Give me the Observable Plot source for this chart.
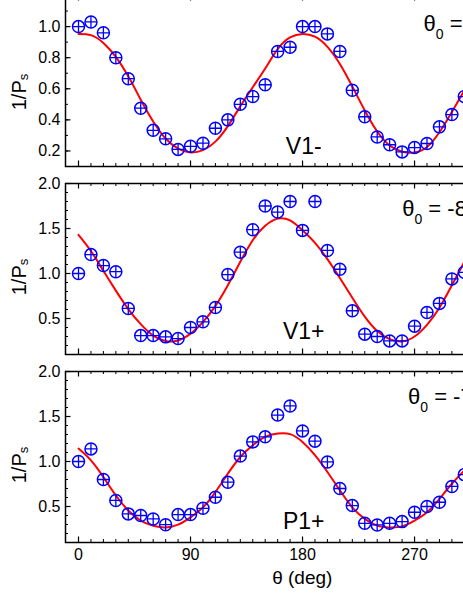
<!DOCTYPE html>
<html><head><meta charset="utf-8">
<script src="https://cdn.jsdelivr.net/npm/d3@7"></script>
<script src="https://cdn.jsdelivr.net/npm/@observablehq/plot@0.6"></script>
<style>
html,body{margin:0;padding:0;background:#fff;overflow:hidden;}
#chart{position:relative;width:463px;height:599px;overflow:hidden;background:#fff;}
#chart svg{position:absolute;left:0;overflow:visible;max-width:none !important;}
</style></head><body><div id="chart"></div>
<script>
// ---- data ----
const theta = [0,10,20,30,40,50,60,70,80,90,100,110,120,130,140,150,160,170,180,190,200,210,220,230,240,250,260,270,280,290,300,310];

const v1Minus = [1.00,1.03,0.96,0.80,0.665,0.475,0.333,0.278,0.21,0.23,0.25,0.346,0.40,0.50,0.55,0.626,0.84,0.867,1.00,1.00,0.953,0.84,0.59,0.42,0.29,0.24,0.194,0.222,0.248,0.355,0.434,0.55];
const v1Plus  = [1.00,1.21,1.088,1.02,0.612,0.31,0.31,0.296,0.277,0.40,0.463,0.623,0.988,1.237,1.487,1.75,1.683,1.80,1.479,1.80,1.256,1.047,0.586,0.326,0.30,0.251,0.251,0.415,0.567,0.668,0.94,1.013];
const p1Plus  = [1.00,1.14,0.80,0.567,0.418,0.40,0.362,0.298,0.41,0.41,0.48,0.603,0.77,1.06,1.218,1.274,1.516,1.617,1.34,1.226,0.995,0.70,0.51,0.313,0.295,0.313,0.332,0.436,0.50,0.547,0.723,0.854];

// fitted curves
const fitV1Minus = [0.953,0.945,0.895,0.805,0.68,0.53,0.39,0.28,0.215,0.19,0.205,0.26,0.36,0.487,0.61,0.73,0.855,0.93,0.953,0.935,0.87,0.76,0.615,0.46,0.325,0.235,0.195,0.19,0.225,0.32,0.45,0.59];
const fitV1Plus  = [1.43,1.25,1.03,0.81,0.605,0.437,0.31,0.25,0.255,0.33,0.46,0.64,0.87,1.13,1.37,1.53,1.61,1.59,1.48,1.34,1.16,0.95,0.73,0.52,0.36,0.27,0.245,0.30,0.43,0.62,0.87,1.13];
const fitP1Plus  = [1.144,1.013,0.827,0.622,0.455,0.343,0.287,0.268,0.298,0.38,0.49,0.66,0.865,1.05,1.18,1.274,1.31,1.304,1.218,1.07,0.883,0.68,0.49,0.362,0.287,0.268,0.279,0.343,0.436,0.585,0.753,0.90];

const panelNames = ["V1-", "V1+", "P1+"];
const theta0Labels = ["θ_0 = 0°", "θ_0 = -85°", "θ_0 = -75°"];
const yLabel = "1/P_s";
const xLabel = "θ (deg)";
const xTicks = [0, 90, 180, 270, 360];
const yTicksTop = [0.2, 0.4, 0.6, 0.8, 1.0];
const yTicksLow = [0.5, 1.0, 1.5, 2.0];

// ---- layout ----
const W = 560, ML = 65, MR = 21.5, PH = 171, MT = 10;
const PW = W - ML - MR;
const blue = "#0000ff", red = "#ff0000";
const font = "'Liberation Sans', Arial, Helvetica, sans-serif";

const plusSymbol = {
  draw(ctx, size) {
    const r = Math.sqrt(size / Math.PI);
    ctx.moveTo(-r, 0); ctx.lineTo(r, 0);
    ctx.moveTo(0, -r); ctx.lineTo(0, r);
  }
};

const panels = [
  {values: v1Minus, fit: fitV1Minus, yDomain: [0.1, 1.2], yTicks: yTicksTop, top: -5, nameDy: -13, t0dx: 358, t0dy: 35, labDy: 11},
  {values: v1Plus,  fit: fitV1Plus,  yDomain: [0.1, 2.0], yTicks: yTicksLow, top: 183, nameDy: -15.5, t0dx: 336.7, t0dy: 32, labDy: 8},
  {values: p1Plus,  fit: fitP1Plus,  yDomain: [0.1, 2.0], yTicks: yTicksLow, top: 371, nameDy: -13.7, t0dx: 342.5, t0dy: 32, labDy: 8}
];

const xMinor = d3.range(0, 361, 10);

function subscriptify(svg) {
  d3.select(svg).selectAll("text").each(function () {
    const t = this.textContent;
    const m = t.match(/^(.*?)_(.)(.*)$/);
    if (!m) return;
    const isTheta = t.startsWith("θ");
    const shift = isTheta ? 8 : 2;
    const sel = d3.select(this);
    sel.text(null);
    sel.append("tspan").text(m[1]);
    sel.append("tspan").attr("font-size", isTheta ? 14 : 13).attr("dy", shift).text(m[2]);
    if (m[3]) sel.append("tspan").attr("dy", -shift).text(m[3]);
  });
}

const chart = document.getElementById("chart");

panels.forEach((p, i) => {
  const last = i === panels.length - 1;
  const MB = last ? 60 : 10;
  const rows = theta.map((t, k) => ({theta: t, v: p.values[k]}));
  const fitRows = theta.map((t, k) => ({theta: t, v: p.fit[k]}));
  const yMinor = d3.range(p.yDomain[0], p.yDomain[1] + 1e-9, 0.1);

  const marks = [
    Plot.tickX(xMinor, {x: d => d, insetTop: PH - 3, stroke: "black", strokeWidth: 1}),
    Plot.tickX(xMinor, {x: d => d, insetBottom: PH - 3, stroke: "black", strokeWidth: 1}),
    Plot.tickX(xTicks, {x: d => d, insetTop: PH - 5.5, stroke: "black", strokeWidth: 1.2}),
    Plot.tickX(xTicks, {x: d => d, insetBottom: PH - 5.5, stroke: "black", strokeWidth: 1.2}),
    Plot.tickY(yMinor, {y: d => d, insetRight: PW - 3, stroke: "black", strokeWidth: 1}),
    Plot.tickY(yMinor, {y: d => d, insetLeft: PW - 3, stroke: "black", strokeWidth: 1}),
    Plot.tickY(p.yTicks, {y: d => d, insetRight: PW - 5.5, stroke: "black", strokeWidth: 1.2}),
    Plot.tickY(p.yTicks, {y: d => d, insetLeft: PW - 5.5, stroke: "black", strokeWidth: 1.2}),
    Plot.axisY(p.yTicks, {tickSize: 0, tickPadding: 5, tickFormat: d => d.toFixed(1), label: null, fontSize: 16}),
    Plot.frame({stroke: "black", strokeWidth: 1.5}),
    Plot.line(fitRows, {x: "theta", y: "v", stroke: red, strokeWidth: 2, curve: "natural"}),
    Plot.dot(rows, {x: "theta", y: "v", r: 6, stroke: blue, strokeWidth: 1.5, fill: "none"}),
    Plot.dot(rows, {x: "theta", y: "v", r: 6, symbol: plusSymbol, stroke: blue, strokeWidth: 1.3, fill: "none"}),
    Plot.text([panelNames[i]], {text: d => d, frameAnchor: "bottom", dx: 1.5, dy: p.nameDy, lineAnchor: "bottom", textAnchor: "middle", fontSize: 23, fill: "black"}),
    Plot.text([theta0Labels[i]], {text: d => d, frameAnchor: "top-left", dx: p.t0dx, dy: p.t0dy, lineAnchor: "bottom", textAnchor: "start", fontSize: 22, fill: "black"}),
    Plot.text([yLabel], {text: d => d, frameAnchor: "left", dx: -40, dy: p.labDy, rotate: -90, lineAnchor: "bottom", textAnchor: "middle", fontSize: 20, fill: "black"})
  ];
  if (last) {
    marks.push(Plot.axisX(xTicks, {tickSize: 0, tickPadding: 6, label: null, fontSize: 16}));
    marks.push(Plot.text([xLabel], {text: d => d, frameAnchor: "bottom", dy: 41, lineAnchor: "bottom", textAnchor: "middle", fontSize: 19, fill: "black"}));
  }

  const svg = Plot.plot({
    width: W,
    height: MT + PH + MB,
    marginLeft: ML, marginRight: MR, marginTop: MT, marginBottom: MB,
    style: {fontFamily: font, fontSize: "16px", color: "black", background: "transparent", overflow: "visible", maxWidth: "none"},
    x: {domain: [-10.45, 370], axis: null},
    y: {domain: p.yDomain, axis: null},
    marks
  });
  subscriptify(svg);
  svg.style.top = (p.top - MT) + "px";
  svg.style.maxWidth = "none";
  svg.style.width = W + "px";
  svg.style.height = (MT + PH + MB) + "px";
  chart.appendChild(svg);
});
</script>
</body></html>
